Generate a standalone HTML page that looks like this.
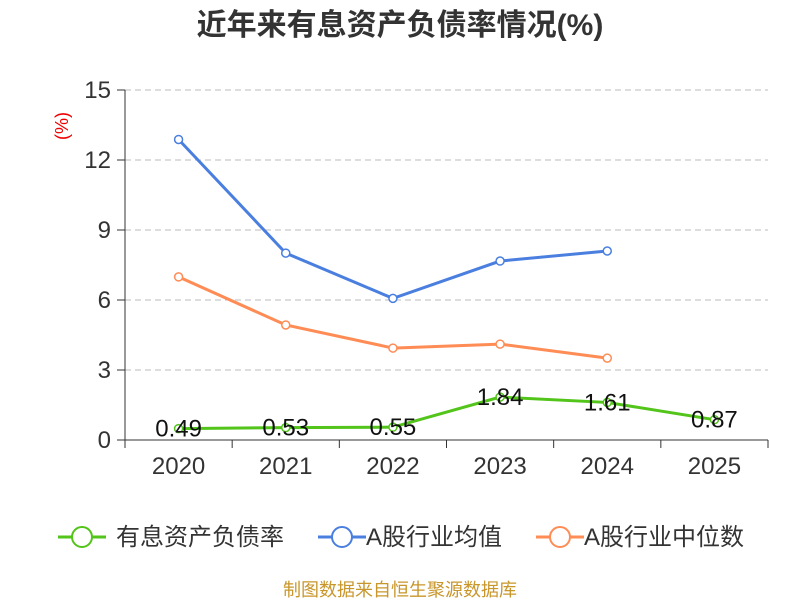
<!DOCTYPE html>
<html><head><meta charset="utf-8"><style>
body{margin:0;background:#fff;font-family:"Liberation Sans","Noto Sans CJK SC",sans-serif}
</style></head><body>
<svg id="chart" width="800" height="600" xmlns="http://www.w3.org/2000/svg">
<text x="400" y="35" text-anchor="middle" font-size="30" font-weight="bold" fill="#333" font-family="Liberation Sans, Noto Sans CJK SC, sans-serif">近年来有息资产负债率情况(%)</text>
<text transform="translate(68,126) rotate(-90)" text-anchor="middle" font-size="18" fill="#e00" font-family="Liberation Sans, sans-serif">(%)</text>
<g id="grid"></g><g id="axes"></g><g id="series"></g>
<g font-size="24" fill="#333" font-family="Liberation Sans, Noto Sans CJK SC, sans-serif">
<g><line x1="58" y1="537" x2="106" y2="537" stroke="#52c41a" stroke-width="3"/><circle cx="82" cy="537" r="10" fill="#fff" stroke="#52c41a" stroke-width="2"/><text x="116" y="545">有息资产负债率</text></g>
<g><line x1="318" y1="537" x2="366" y2="537" stroke="#4a7fe0" stroke-width="3"/><circle cx="342" cy="537" r="10" fill="#fff" stroke="#4a7fe0" stroke-width="2"/><text x="366" y="545">A股行业均值</text></g>
<g><line x1="536" y1="537" x2="584" y2="537" stroke="#ff8c55" stroke-width="3"/><circle cx="560" cy="537" r="10" fill="#fff" stroke="#ff8c55" stroke-width="2"/><text x="584" y="545">A股行业中位数</text></g>
</g>
<text x="400" y="596" text-anchor="middle" font-size="18" fill="#c8962a" font-family="Liberation Sans, Noto Sans CJK SC, sans-serif">制图数据来自恒生聚源数据库</text>
</svg>
<script>
const categories=["2020","2021","2022","2023","2024","2025"];
const debtRatio=[0.49,0.53,0.55,1.84,1.61,0.87];
const industryMean=[12.88,8.01,6.07,7.67,8.1];
const industryMedian=[6.99,4.93,3.94,4.11,3.51];
const yTicks=[0,3,6,9,12,15];
const NS="http://www.w3.org/2000/svg";
const L=125,R=768,T=90,B=440,yMax=15;
const bw=(R-L)/categories.length;
const xS=i=>L+bw*(i+0.5);
const yS=v=>B-(v/yMax)*(B-T);
function mk(tag,attrs,parent){const e=document.createElementNS(NS,tag);for(const k in attrs)e.setAttribute(k,attrs[k]);parent.appendChild(e);return e;}
const grid=document.getElementById('grid'),axes=document.getElementById('axes'),series=document.getElementById('series');
yTicks.forEach(t=>{
  if(t>0){const g=mk('line',{x1:L,x2:R,y1:yS(t),y2:yS(t),stroke:'#bbb','stroke-dasharray':'6,4'},grid);
  
  }
  const tk=mk('line',{x1:L-8,x2:L,y1:yS(t),y2:yS(t),stroke:'#333'},axes);
  
  
  const tx=mk('text',{x:L-14,y:yS(t)+8,'text-anchor':'end','font-size':'24',fill:'#333','font-family':'Liberation Sans, sans-serif'},axes);
  tx.textContent=t;
  
  
});
const ya=mk('line',{x1:L,x2:L,y1:T,y2:B,stroke:'#333'},axes);


const xa=mk('line',{x1:L,x2:R,y1:B,y2:B,stroke:'#333'},axes);


for(let i=0;i<=categories.length;i++){
  const tk=mk('line',{x1:L+bw*i,x2:L+bw*i,y1:B,y2:B+8,stroke:'#333'},axes);
  
  
}
categories.forEach((c,i)=>{
  const tx=mk('text',{x:xS(i),y:B+34,'text-anchor':'middle','font-size':'24',fill:'#333','font-family':'Liberation Sans, sans-serif'},axes);
  tx.textContent=c;
  
  
});
function drawSeries(vals,color,name,labels){
  const g=mk('g',{},series);
  
  
  const p=mk('polyline',{points:vals.map((v,i)=>xS(i)+','+yS(v)).join(' '),fill:'none',stroke:color,'stroke-width':'3'},g);
  
  
  vals.forEach((v,i)=>{
    const c=mk('circle',{cx:xS(i),cy:yS(v),r:4,fill:'#fff',stroke:color,'stroke-width':'1.5'},g);
    
    
    if(labels){
      const t=mk('text',{x:xS(i),y:yS(v)+8,'text-anchor':'middle','font-size':'24',fill:'#111','font-family':'Liberation Sans, sans-serif'},g);
      t.textContent=v.toFixed(2);
      
      
    }
  });
}
drawSeries(industryMean,'#4a7fe0','industry-mean',false);
drawSeries(industryMedian,'#ff8c55','industry-median',false);
drawSeries(debtRatio,'#52c41a','debt-ratio',true);
</script>
</body></html>
